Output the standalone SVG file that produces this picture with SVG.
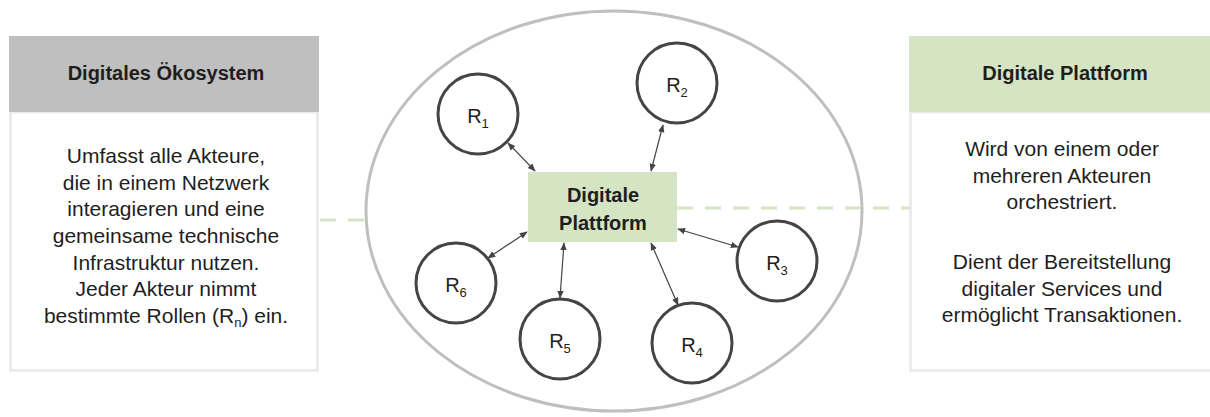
<svg xmlns="http://www.w3.org/2000/svg" width="1210" height="417" viewBox="0 0 1210 417">
<defs>
<style>
.t{font-family:"Liberation Sans",Arial,sans-serif;font-size:21px;fill:#1e1e1e;text-anchor:middle}
.b{font-family:"Liberation Sans",Arial,sans-serif;font-size:20px;font-weight:bold;fill:#1e1e1e;text-anchor:middle}
.r{font-family:"Liberation Sans",Arial,sans-serif;font-size:20px;fill:#1e1e1e;text-anchor:middle}
.s{font-size:13px}
.role{fill:#fff;stroke:#444;stroke-width:3}
.con{stroke:#444;stroke-width:1.2;fill:none;marker-start:url(#ah);marker-end:url(#ah)}
.dash{stroke:#d5e4c3;stroke-width:3;stroke-dasharray:16 12;fill:none}
.body{fill:#fff;stroke:#ebebeb;stroke-width:3}
</style>
<marker id="ah" viewBox="0 0 10 10" refX="9" refY="5" markerWidth="8" markerHeight="8" markerUnits="userSpaceOnUse" orient="auto-start-reverse">
<path d="M0,1 L10,5 L0,9 z" fill="#444"/>
</marker>
</defs>
<rect width="1210" height="417" fill="#fff"/>

<g id="ecosystem">
<ellipse cx="614" cy="211" rx="248" ry="200" fill="#fff" stroke="#bfbfbf" stroke-width="3"/>
</g>

<g id="connectors">
<path class="dash" d="M320,220 H366"/>
<path class="dash" d="M677,208 H909"/>
<line class="con" x1="508" y1="143" x2="535" y2="171"/>
<line class="con" x1="663" y1="125" x2="651" y2="171"/>
<line class="con" x1="678" y1="229" x2="738" y2="247"/>
<line class="con" x1="651" y1="243" x2="678" y2="305"/>
<line class="con" x1="564" y1="243" x2="560" y2="298"/>
<line class="con" x1="527" y1="232" x2="488" y2="258"/>
</g>

<g id="left-box">
<rect class="body" x="10.5" y="112" width="307" height="258.5"/>
<rect x="9" y="36" width="310" height="76" fill="#bfbfbf"/>
<text class="b" x="166" y="80">Digitales Ökosystem</text>
<text class="t" x="166" y="163">Umfasst alle Akteure,</text>
<text class="t" x="166" y="189.7">die in einem Netzwerk</text>
<text class="t" x="166" y="216.3">interagieren und eine</text>
<text class="t" x="166" y="243">gemeinsame technische</text>
<text class="t" x="166" y="269.7">Infrastruktur nutzen.</text>
<text class="t" x="166" y="296.3">Jeder Akteur nimmt</text>
<text class="t" x="166" y="323">bestimmte Rollen (R<tspan class="s" dy="4">n</tspan><tspan dy="-4">) ein.</tspan></text>
</g>

<g id="right-box">
<rect class="body" x="910.5" y="112" width="310" height="258.5"/>
<rect x="909" y="36" width="310" height="76" fill="#d5e4c3"/>
<text class="b" x="1065" y="80">Digitale Plattform</text>
<text class="t" x="1062" y="156">Wird von einem oder</text>
<text class="t" x="1062" y="182.7">mehreren Akteuren</text>
<text class="t" x="1062" y="209.3">orchestriert.</text>
<text class="t" x="1062" y="269">Dient der Bereitstellung</text>
<text class="t" x="1062" y="295.7">digitaler Services und</text>
<text class="t" x="1062" y="322.3">ermöglicht Transaktionen.</text>
</g>

<g id="platform">
<rect x="528" y="172" width="149" height="70" fill="#d5e4c3"/>
<text class="b" x="603" y="202">Digitale</text>
<text class="b" x="603" y="230">Plattform</text>
</g>

<g id="r1"><circle class="role" cx="478" cy="114" r="40"/><text class="r" x="478" y="123">R<tspan class="s" dy="5">1</tspan></text></g>
<g id="r2"><circle class="role" cx="677" cy="83" r="40"/><text class="r" x="677" y="92">R<tspan class="s" dy="5">2</tspan></text></g>
<g id="r3"><circle class="role" cx="777" cy="261" r="40"/><text class="r" x="777" y="270">R<tspan class="s" dy="5">3</tspan></text></g>
<g id="r4"><circle class="role" cx="692" cy="343" r="40"/><text class="r" x="692" y="352">R<tspan class="s" dy="5">4</tspan></text></g>
<g id="r5"><circle class="role" cx="560" cy="339" r="40"/><text class="r" x="560" y="348">R<tspan class="s" dy="5">5</tspan></text></g>
<g id="r6"><circle class="role" cx="456" cy="283" r="40"/><text class="r" x="456" y="292">R<tspan class="s" dy="5">6</tspan></text></g>
</svg>
